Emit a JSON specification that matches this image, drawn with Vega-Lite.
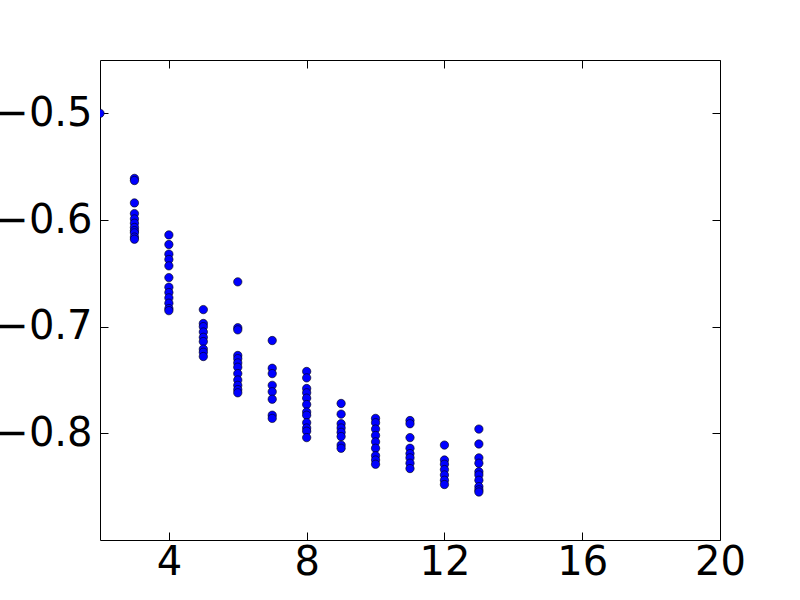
{
  "$schema": "https://vega.github.io/schema/vega-lite/v6.json",
  "autosize": "none",
  "width": 620,
  "height": 480,
  "padding": {"left": 100, "top": 60, "right": 80, "bottom": 60},
  "background": "white",
  "config": {"view": {"stroke": "black", "strokeWidth": 1}, "font": "DejaVu Sans"},
  "data": {"values": [
    {"x": 2, "y": -0.5},
    {"x": 3, "y": -0.561}, {"x": 3, "y": -0.563}, {"x": 3, "y": -0.584}, {"x": 3, "y": -0.594}, {"x": 3, "y": -0.599}, {"x": 3, "y": -0.603}, {"x": 3, "y": -0.607}, {"x": 3, "y": -0.61}, {"x": 3, "y": -0.612}, {"x": 3, "y": -0.616}, {"x": 3, "y": -0.618},
    {"x": 4, "y": -0.614}, {"x": 4, "y": -0.623}, {"x": 4, "y": -0.632}, {"x": 4, "y": -0.637}, {"x": 4, "y": -0.643}, {"x": 4, "y": -0.654}, {"x": 4, "y": -0.663}, {"x": 4, "y": -0.668}, {"x": 4, "y": -0.673}, {"x": 4, "y": -0.678}, {"x": 4, "y": -0.683}, {"x": 4, "y": -0.685},
    {"x": 5, "y": -0.684}, {"x": 5, "y": -0.697}, {"x": 5, "y": -0.7}, {"x": 5, "y": -0.705}, {"x": 5, "y": -0.71}, {"x": 5, "y": -0.714}, {"x": 5, "y": -0.721}, {"x": 5, "y": -0.724}, {"x": 5, "y": -0.728},
    {"x": 6, "y": -0.658}, {"x": 6, "y": -0.701}, {"x": 6, "y": -0.703}, {"x": 6, "y": -0.727}, {"x": 6, "y": -0.73}, {"x": 6, "y": -0.734}, {"x": 6, "y": -0.738}, {"x": 6, "y": -0.744}, {"x": 6, "y": -0.75}, {"x": 6, "y": -0.755}, {"x": 6, "y": -0.759}, {"x": 6, "y": -0.762},
    {"x": 7, "y": -0.713}, {"x": 7, "y": -0.739}, {"x": 7, "y": -0.744}, {"x": 7, "y": -0.755}, {"x": 7, "y": -0.761}, {"x": 7, "y": -0.768}, {"x": 7, "y": -0.783}, {"x": 7, "y": -0.786},
    {"x": 8, "y": -0.742}, {"x": 8, "y": -0.748}, {"x": 8, "y": -0.758}, {"x": 8, "y": -0.762}, {"x": 8, "y": -0.767}, {"x": 8, "y": -0.773}, {"x": 8, "y": -0.78}, {"x": 8, "y": -0.783}, {"x": 8, "y": -0.79}, {"x": 8, "y": -0.795}, {"x": 8, "y": -0.798}, {"x": 8, "y": -0.804},
    {"x": 9, "y": -0.772}, {"x": 9, "y": -0.782}, {"x": 9, "y": -0.791}, {"x": 9, "y": -0.795}, {"x": 9, "y": -0.799}, {"x": 9, "y": -0.803}, {"x": 9, "y": -0.811}, {"x": 9, "y": -0.814},
    {"x": 10, "y": -0.786}, {"x": 10, "y": -0.79}, {"x": 10, "y": -0.796}, {"x": 10, "y": -0.802}, {"x": 10, "y": -0.808}, {"x": 10, "y": -0.814}, {"x": 10, "y": -0.821}, {"x": 10, "y": -0.825}, {"x": 10, "y": -0.829},
    {"x": 11, "y": -0.788}, {"x": 11, "y": -0.791}, {"x": 11, "y": -0.804}, {"x": 11, "y": -0.814}, {"x": 11, "y": -0.819}, {"x": 11, "y": -0.823}, {"x": 11, "y": -0.828}, {"x": 11, "y": -0.833},
    {"x": 12, "y": -0.811}, {"x": 12, "y": -0.825}, {"x": 12, "y": -0.829}, {"x": 12, "y": -0.834}, {"x": 12, "y": -0.839}, {"x": 12, "y": -0.844}, {"x": 12, "y": -0.848},
    {"x": 13, "y": -0.796}, {"x": 13, "y": -0.81}, {"x": 13, "y": -0.823}, {"x": 13, "y": -0.828}, {"x": 13, "y": -0.836}, {"x": 13, "y": -0.839}, {"x": 13, "y": -0.844}, {"x": 13, "y": -0.85}, {"x": 13, "y": -0.853}, {"x": 13, "y": -0.855}
  ]},
  "layer": [
    {
      "mark": {"type": "point", "filled": true, "clip": true, "size": 70, "fill": "#0000ff", "stroke": "black", "strokeWidth": 0.6, "opacity": 1},
      "encoding": {
        "x": {"field": "x", "type": "quantitative", "scale": {"domain": [2, 20], "nice": false, "zero": false},
          "axis": {"orient": "bottom", "values": [4, 8, 12, 16, 20], "grid": false, "title": null, "labelFontSize": 40, "labelColor": "black", "labelFont": "DejaVu Sans", "tickSize": -8, "tickColor": "black", "domain": false, "labelPadding": 10, "labelFlush": false}},
        "y": {"field": "y", "type": "quantitative", "scale": {"domain": [-0.9, -0.45], "nice": false, "zero": false},
          "axis": {"orient": "left", "values": [-0.8, -0.7, -0.6, -0.5], "grid": false, "title": null, "labelFontSize": 40, "labelColor": "black", "labelFont": "DejaVu Sans", "tickSize": -8, "tickColor": "black", "domain": false, "labelPadding": 16, "format": ".1f", "labelExpr": "replace(datum.label, '-', '−')"}}
      }
    },
    {
      "mark": {"type": "point", "opacity": 0},
      "encoding": {
        "x": {"field": "x", "type": "quantitative", "axis": {"orient": "top", "values": [4, 8, 12, 16, 20], "labels": false, "grid": false, "title": null, "tickSize": -8, "tickColor": "black", "domain": false}},
        "y": {"field": "y", "type": "quantitative", "axis": {"orient": "right", "values": [-0.8, -0.7, -0.6, -0.5], "labels": false, "grid": false, "title": null, "tickSize": -8, "tickColor": "black", "domain": false}}
      }
    }
  ],
  "resolve": {"axis": {"x": "independent", "y": "independent"}}
}
